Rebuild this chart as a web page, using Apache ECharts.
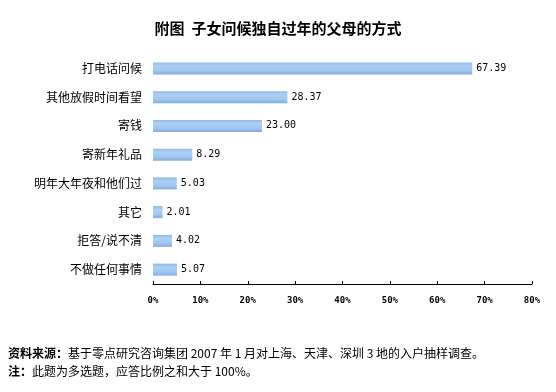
<!DOCTYPE html>
<html><head><meta charset="utf-8">
<script src="https://cdn.jsdelivr.net/npm/echarts@6/dist/echarts.min.js"></script>
<style>html,body{margin:0;padding:0;background:#fff}#c{width:556px;height:392px}</style>
</head><body><div id="c"></div>
<script>
const categories = ['打电话问候','其他放假时间看望','寄钱','寄新年礼品','明年大年夜和他们过','其它','拒答/说不清','不做任何事情'];
const values = [67.39, 28.37, 23.00, 8.29, 5.03, 2.01, 4.02, 5.07];
const xTicks = [0,10,20,30,40,50,60,70,80];
const titleText = '附图  子女问候独自过年的父母的方式';
const sourceText = '基于零点研究咨询集团 2007 年 1 月对上海、天津、深圳 3 地的入户抽样调查。';
const noteText = '此题为多选题，应答比例之和大于 100%。';

const chart = echarts.init(document.getElementById('c'), null, {renderer:'canvas'});
const cjk = '"Noto Sans CJK SC", sans-serif';
chart.setOption({
  animation:false,
  backgroundColor:'#fff',
  title:{text:titleText,left:'center',top:16,textStyle:{fontFamily:cjk,fontSize:15,fontWeight:'bold',color:'#000'}},
  grid:{left:153,right:24,top:54,bottom:108,containLabel:false},
  xAxis:{type:'value',min:xTicks[0],max:xTicks[xTicks.length-1],interval:10,
    axisLine:{show:true,lineStyle:{color:'#000',width:1}},
    axisTick:{show:true,inside:true,length:3,lineStyle:{color:'#000'}},
    splitLine:{show:false},
    axisLabel:{margin:12,formatter:v=>v+'%',fontFamily:'"DejaVu Sans Mono", monospace',fontSize:9,fontWeight:'bold',color:'#000'}},
  yAxis:{type:'category',data:categories,inverse:true,
    axisLine:{show:false},axisTick:{show:false},
    axisLabel:{margin:11,fontFamily:cjk,fontSize:12,color:'#000'}},
  series:[{type:'bar',data:values,barWidth:12,
    itemStyle:{color:new echarts.graphic.LinearGradient(0,0,0,1,[
      {offset:0,color:'#8fb8e6'},{offset:0.3,color:'#aed0f6'},{offset:0.7,color:'#a0c6f0'},{offset:1,color:'#84addc'}])},
    label:{show:true,position:'right',distance:4,formatter:p=>p.value.toFixed(2),
      fontFamily:'"DejaVu Sans Mono", monospace',fontSize:10,color:'#000'}}],
  graphic:[
    {type:'text',left:8,top:347,style:{text:'{b|资料来源：}{n|'+sourceText+'}',
      rich:{b:{fontFamily:cjk,fontSize:12,fontWeight:'bold',fill:'#000'},n:{fontFamily:cjk,fontSize:12,fill:'#000'}}}},
    {type:'text',left:8,top:365,style:{text:'{b|注：}{n|'+noteText+'}',
      rich:{b:{fontFamily:cjk,fontSize:12,fontWeight:'bold',fill:'#000'},n:{fontFamily:cjk,fontSize:12,fill:'#000'}}}}
  ]
});
</script></body></html>
